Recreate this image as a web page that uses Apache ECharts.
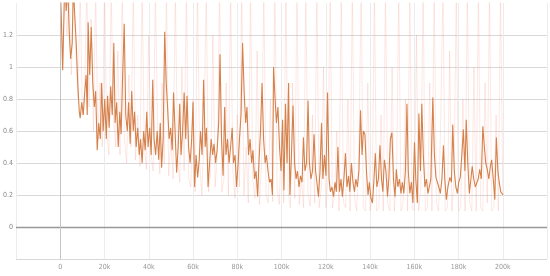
<!DOCTYPE html>
<html><head><meta charset="utf-8">
<script src="https://cdn.jsdelivr.net/npm/echarts@6/dist/echarts.min.js"></script>
<style>html,body{margin:0;padding:0;background:#fff}#c{width:550px;height:276px}</style>
</head><body><div id="c"></div>
<script>
// smoothed curve: steps in thousands
const steps = [0,0.5,1.1,1.8,2.3,2.7,3.4,4.1,4.7,5.4,5.9,6.5,7.2,7.9,8.6,9.0,9.7,10.4,11.1,11.7,12.2,12.6,13.3,14.0,14.7,15.4,16.0,16.7,17.4,18.1,18.7,19.4,20.1,20.8,21.4,22.1,22.8,23.5,24.2,24.8,25.5,26.2,26.9,27.5,28.2,28.9,29.6,30.3,30.9,31.6,32.3,33.0,33.6,34.3,35.0,35.7,36.3,37.0,37.7,38.4,39.1,39.7,40.4,41.1,41.8,42.4,43.1,43.8,44.5,45.2,45.8,46.5,47.2,
47.9,48.5,49.2,49.9,50.6,51.2,51.9,52.6,53.3,54.0,
54.6,55.3,56.0,56.7,57.3,58.0,58.7,59.4,60.0,60.7,
61.4,62.1,62.8,63.4,64.1,64.8,65.5,66.1,66.8,67.5,
68.2,68.9,69.5,70.2,70.9,71.6,72.2,72.9,73.6,74.3,
74.9,75.6,76.3,77.0,77.7,78.3,79.0,79.7,80.4,81.0,
81.7,82.4,83.1,83.8,84.4,85.1,85.8,86.5,87.1,87.8,
88.5,89.2,89.8,90.5,91.2,91.9,92.6,93.2,93.9,94.6,
95.3,95.9,96.4,97.1,97.7,98.4,99.1,99.8,100.5,101.1,
101.8,102.5,103.2,103.8,104.5,105.2,105.9,106.6,107.2,107.9,
108.6,109.3,109.9,110.6,111.3,112.0,112.6,113.3,114.0,114.7,
115.4,116.0,116.7,117.4,118.1,118.7,119.4,120.1,120.8,121.5,
122.1,122.8,123.5,124.2,124.8,125.5,126.2,126.9,127.5,128.2,
128.9,129.6,130.3,130.9,131.6,132.3,133.0,133.6,134.3,135.0,
135.7,136.4,137.0,137.7,138.4,139.1,139.7,140.4,141.1,141.8,
142.4,143.1,143.8,144.5,145.2,145.8,146.5,147.2,147.9,148.5,
149.2,149.9,150.6,151.3,151.9,152.6,153.3,154.0,154.6,155.3,
156.0,156.7,157.3,158.0,158.7,159.4,160.1,160.7,161.4,162.1,
162.8,163.4,164.1,164.8,165.5,166.2,166.8,167.5,168.4,169.1,
169.8,170.4,171.1,171.8,172.5,173.2,173.8,174.5,175.2,176.1,
176.8,177.4,178.1,178.8,179.5,180.1,180.8,181.5,182.2,182.9,
183.5,184.2,184.9,185.6,186.2,186.9,187.6,188.3,188.9,189.6,
190.3,191.0,191.7,192.3,193.0,193.7,194.4,195.0,195.7,196.4,
197.1,197.8,198.4,199.1,199.8,200.2];
const smoothed = [1.5,1.3,0.98,1.4,1.5,1.35,1.5,1.2,1.05,1.15,1.5,1.5,1.15,0.9,0.72,0.68,0.78,0.7,0.85,0.95,0.7,1.28,0.95,1.25,0.9,0.75,0.85,0.48,0.65,0.55,0.9,0.6,0.8,0.55,0.82,0.62,0.88,0.7,1.15,0.65,0.78,0.5,0.72,0.58,0.95,1.27,0.7,0.6,0.78,0.52,0.85,0.6,0.72,0.5,0.62,0.45,0.55,0.4,0.6,0.48,0.72,0.5,0.62,0.45,0.92,0.55,0.45,0.6,0.42,0.65,0.37,0.55,1.22,
0.9,0.75,0.55,0.62,0.48,0.84,0.6,0.34,0.5,0.77,
0.45,0.6,0.84,0.55,0.82,0.5,0.4,0.55,0.78,0.25,
0.45,0.31,0.42,0.6,0.45,0.92,0.5,0.62,0.25,0.4,
0.55,0.45,0.52,0.4,0.48,0.65,1.08,0.55,0.32,0.75,
0.45,0.55,0.4,0.5,0.62,0.4,0.45,0.25,0.4,0.55,
0.7,1.15,0.85,0.65,0.75,0.45,0.55,0.4,0.48,0.3,
0.35,0.19,0.4,0.6,0.9,0.55,0.4,0.45,0.35,0.28,
0.3,0.2,1.0,0.8,0.65,0.75,0.5,0.35,0.67,0.23,
0.77,0.4,0.9,0.2,0.45,0.76,0.4,0.3,0.35,0.25,
0.32,0.28,0.56,0.35,0.4,0.79,0.4,0.3,0.35,0.58,
0.35,0.28,0.19,0.35,0.65,0.3,0.45,0.32,0.84,0.3,
0.22,0.25,0.19,0.28,0.22,0.5,0.22,0.3,0.19,0.3,
0.46,0.25,0.32,0.22,0.4,0.28,0.22,0.3,0.25,0.35,
0.73,0.45,0.6,0.58,0.35,0.2,0.28,0.18,0.15,0.3,
0.46,0.25,0.3,0.51,0.3,0.22,0.42,0.35,0.19,0.3,
0.55,0.59,0.3,0.19,0.36,0.25,0.3,0.21,0.28,0.21,
0.35,0.77,0.35,0.21,0.28,0.15,0.53,0.3,0.15,0.71,
0.35,0.77,0.45,0.25,0.3,0.21,0.25,0.3,0.81,0.45,
0.31,0.3,0.25,0.21,0.3,0.51,0.3,0.17,0.25,0.31,
0.28,0.64,0.35,0.25,0.21,0.28,0.31,0.45,0.61,0.35,
0.67,0.4,0.21,0.3,0.38,0.3,0.25,0.25,0.3,0.36,
0.3,0.63,0.5,0.4,0.36,0.3,0.38,0.42,0.3,0.17,
0.56,0.35,0.28,0.22,0.21,0.2];

// raw (unsmoothed) curve
const rawSteps = [0,1,2,3,4,5,6,7,8,9,10,11,12,13,14,15,16,17,18,19,20,21,22,23,24,25,26,27,28,29,30,31,32,33,34,35,36,37,38,39,40,41,42,43,44,45,46,47,48,49,50,51,52,53,54,55,56,57,58,59,60,61,62,63,64,65,66,67,68,69,70,71,72,73,74,75,76,77,78,79,80,81,82,83,84,85,86,87,88,89,90,91,92,93,94,95,96,97,98,99,100,101,102,103,104,105,106,107,108,109,110,111,112,113,114,115,116,117,118,119,120,121,122,123,124,125,126,127,128,129,130,131,132,133,134,135,136,137,138,139,140,141,142,143,144,145,146,147,148,149,150,151,152,153,154,155,156,157,158,159,160,161,162,163,164,165,166,167,168,169,170,171,172,173,174,175,176,177,178,179,180,181,182,183,184,185,186,187,188,189,190,191,192,193,194,195,196,197,198,199,200];
const raw = [1.5,1.0,1.5,1.2,1.5,0.95,1.5,1.1,0.8,1.5,0.7,
0.85,1.5,0.75,1.3,0.6,1.5,0.55,0.9,0.5,1.5,
0.6,0.45,1.5,0.7,0.5,1.1,0.45,1.5,0.55,0.4,
0.95,0.5,1.5,0.42,0.7,0.38,1.5,0.5,0.36,1.2,
0.45,0.35,1.5,0.6,0.33,0.9,0.4,1.5,0.32,0.55,
0.3,1.5,0.45,0.28,1.0,0.35,1.5,0.3,0.25,0.8,
0.22,1.5,0.4,0.2,0.6,1.5,0.22,0.35,1.2,0.25,
0.45,1.5,0.22,0.3,0.9,0.2,1.5,0.35,0.18,0.7,
0.25,1.5,0.2,0.5,0.15,1.5,0.3,0.18,1.1,0.14,
0.4,1.5,0.2,0.15,0.8,0.16,1.5,0.25,0.14,0.6,
0.15,1.5,0.22,0.12,0.9,0.18,1.5,0.14,0.3,0.12,
1.5,0.2,0.13,0.7,0.15,1.5,0.12,0.25,1.0,0.12,
0.3,1.5,0.12,0.2,0.6,0.1,1.5,0.15,0.12,0.8,
0.1,1.5,0.18,0.1,0.5,1.5,0.12,0.1,0.9,0.1,
0.2,1.5,0.1,0.12,0.7,0.1,1.5,0.15,0.1,1.0,
0.1,0.3,1.5,0.1,0.15,0.8,0.1,1.5,0.12,0.1,
1.2,0.1,0.25,1.5,0.1,0.12,0.9,0.1,1.5,0.15,
0.1,0.7,1.5,0.1,0.12,1.1,0.1,0.3,1.5,0.1,
0.12,0.8,0.1,1.5,0.15,0.1,1.0,0.1,1.5,0.12,
0.1,0.9,0.15,1.5,0.1,0.12,0.7,0.1,1.5,0.2];

const zip = (xs, ys) => ys.slice(0, Math.min(xs.length, ys.length)).map((v, i) => [xs[i], v]);

const chart = echarts.init(document.getElementById('c'), null, {renderer: 'canvas'});
chart.setOption({
  animation: false,
  backgroundColor: '#fff',
  grid: {left: 16, right: 3, top: 3, bottom: 17},
  xAxis: {
    type: 'value', min: -20, max: 220, interval: 20,
    axisLine: {show: false}, axisTick: {show: false},
    splitLine: {show: true, lineStyle: {color: '#ececec', width: 1}},
    axisLabel: {
      fontSize: 7, color: '#999', margin: 5, fontFamily: 'DejaVu Sans Condensed, sans-serif',
      formatter: v => (v < 0 || v > 200) ? '' : (v === 0 ? '0' : v + 'k')
    }
  },
  yAxis: {
    type: 'value', min: -0.2, max: 1.4, interval: 0.2,
    axisLine: {show: false}, axisTick: {show: false},
    splitLine: {show: true, lineStyle: {color: ['#d8d8d8','#d8d8d8','#d8d8d8','#d8d8d8','#d8d8d8','#d8d8d8','#d8d8d8','#d8d8d8','rgba(0,0,0,0)'], width: 1}},
    axisLabel: {
      fontSize: 7, color: '#888', margin: 3, fontFamily: 'DejaVu Sans Condensed, sans-serif',
      formatter: v => { const r = Math.round(v * 10) / 10; return (r < 0 || r > 1.2) ? '' : String(r); }
    }
  },
  series: [
    {
      type: 'line', data: zip(rawSteps, raw), showSymbol: false, silent: true,
      lineStyle: {color: 'rgba(246,150,130,0.22)', width: 1}
    },
    {
      type: 'line', data: zip(steps, smoothed), showSymbol: false, silent: true,
      lineStyle: {color: '#d5814b', width: 1.1},
      markLine: {
        silent: true, symbol: 'none', label: {show: false},
        data: [
          {yAxis: 0, lineStyle: {color: '#999', width: 1.3, type: 'solid'}},
          {xAxis: 0, lineStyle: {color: '#c4c4c4', width: 1, type: 'solid'}}
        ]
      }
    }
  ]
});
</script>
</body></html>
